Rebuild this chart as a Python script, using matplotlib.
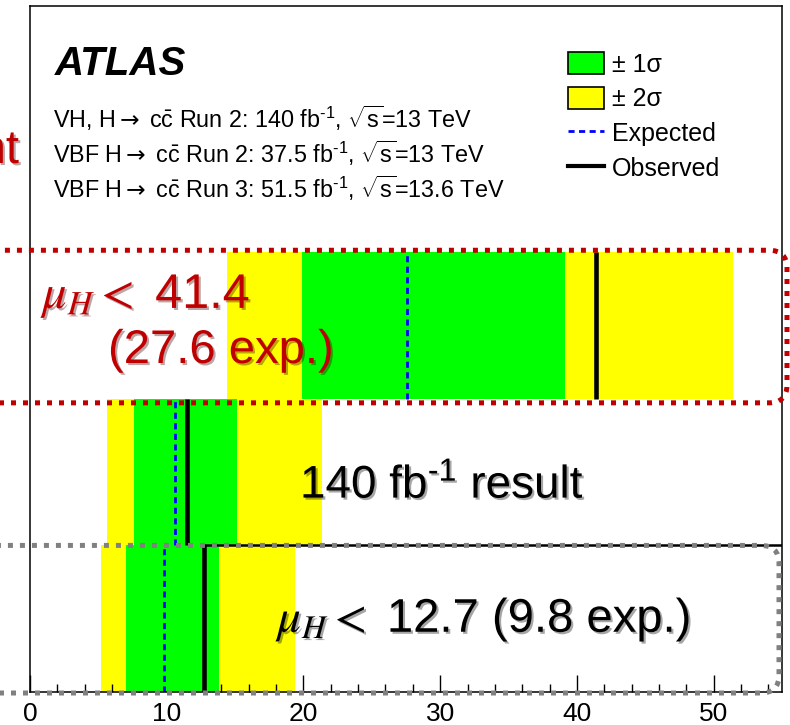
import matplotlib
matplotlib.use('Agg')
import matplotlib.pyplot as plt
import matplotlib.patheffects as pe
from matplotlib.patches import Patch, FancyBboxPatch
from matplotlib.lines import Line2D
from matplotlib.transforms import IdentityTransform
from matplotlib.ticker import MultipleLocator

plt.rcParams['font.family'] = ['Liberation Sans', 'DejaVu Sans']
plt.rcParams['mathtext.fontset'] = 'custom'
plt.rcParams['mathtext.rm'] = 'Liberation Sans'
plt.rcParams['mathtext.it'] = 'Liberation Sans:italic'
plt.rcParams['mathtext.bf'] = 'Liberation Sans:bold'
plt.rcParams['mathtext.sf'] = 'DejaVu Sans'

# limits on mu_H, one row per result (bottom to top)
results = ['VH Run 2', 'VH + VBF, 140 fb-1', 'VH + VBF Run 2 + Run 3']
observed = [12.7, 11.5, 41.4]
expected = [9.8, 10.6, 27.6]
minus_1s = [7.0, 7.6, 19.9]
plus_1s = [13.8, 15.15, 39.1]
minus_2s = [5.2, 5.65, 14.4]
plus_2s = [19.35, 21.35, 51.45]

header = [
    r'VH, H$\mathsf{\rightarrow}$ c$\bar{\mathrm{c}}$ Run 2: 140 fb$^{\text{-1}}$, $\sqrt{\mathrm{s}}$=13 TeV',
    r'VBF H$\mathsf{\rightarrow}$ c$\bar{\mathrm{c}}$ Run 2: 37.5 fb$^{\text{-1}}$, $\sqrt{\mathrm{s}}$=13 TeV',
    r'VBF H$\mathsf{\rightarrow}$ c$\bar{\mathrm{c}}$ Run 3: 51.5 fb$^{\text{-1}}$, $\sqrt{\mathrm{s}}$=13.6 TeV',
]

W, H = 790, 725
GREEN = '#00ff00'
YELLOW = '#ffff00'
RED = '#c00000'
GREY = '#808080'


def fp(x, y):
    # pixel position measured from the top left -> figure fraction
    return x / W, 1 - y / H


fig = plt.figure(figsize=(W / 100, H / 100), dpi=100)
ax = fig.add_axes([30 / W, (H - 692) / H, 752 / W, 686 / H])

rows = list(range(len(results)))
for i in rows:
    ax.barh(i, plus_2s[i] - minus_2s[i], left=minus_2s[i], height=1,
            align='edge', color=YELLOW, lw=0, zorder=1)
    ax.barh(i, plus_1s[i] - minus_1s[i], left=minus_1s[i], height=1,
            align='edge', color=GREEN, lw=0, zorder=2)
    ax.vlines(expected[i], i, i + 1, colors='blue', lw=2,
              linestyles=(0, (2.2, 1.6)), zorder=3)
    ax.vlines(observed[i], i, i + 1, colors='black', lw=3.3, zorder=4)

ax.hlines(1, observed[0], 55, colors='black', lw=1.8, zorder=4)

ax.set_xlim(0, 55)
ax.set_ylim(0, 4.68)
ax.set_yticks([])
ax.xaxis.set_major_locator(MultipleLocator(10))
ax.xaxis.set_minor_locator(MultipleLocator(2))
ax.tick_params(axis='x', which='major', direction='in', length=12, width=1,
               labelsize=19, pad=7)
ax.tick_params(axis='x', which='minor', direction='in', length=6, width=1)
for s in ax.spines.values():
    s.set_linewidth(1.1)
    s.set_zorder(6)

# header
fig.text(*fp(55, 75), 'ATLAS', fontsize=29, weight='bold', style='italic',
         va='baseline')
for k, line in enumerate(header):
    fig.text(*fp(53, 128 + 35 * k), line, fontsize=16.8, va='baseline')

handles = [
    Patch(facecolor=GREEN, edgecolor='black', lw=1.2),
    Patch(facecolor=YELLOW, edgecolor='black', lw=1.2),
    Line2D([], [], color='blue', lw=2, ls=(0, (2.2, 1.6))),
    Line2D([], [], color='black', lw=3),
]
labels = ['± 1σ', '± 2σ', 'Expected', 'Observed']
fig.legend(handles, labels, loc='upper left', bbox_to_anchor=fp(568, 52),
           frameon=False, fontsize=18, handlelength=1.45, handleheight=1.0,
           labelspacing=0.4, handletextpad=0.3, borderpad=0, borderaxespad=0)

# dotted boxes around the first and the last result
fig.canvas.draw()
to_px = ax.transData.transform
x_right = to_px((55, 0))[0]


def dotted_box(y0, y1, x1, color):
    b = FancyBboxPatch((-40, y0), x1 + 40, y1 - y0,
                       boxstyle='round,pad=0,rounding_size=18',
                       transform=IdentityTransform(), fill=False,
                       edgecolor=color, lw=3.6, ls=(0, (1, 1.4)),
                       capstyle='butt', zorder=8)
    fig.add_artist(b)


dotted_box(to_px((0, 2))[1] - 4, to_px((0, 3))[1] + 2, x_right + 5, RED)
dotted_box(to_px((0, 0))[1] - 1, to_px((0, 1))[1], x_right - 3, GREY)

shadow = [pe.SimplePatchShadow(offset=(1.5, -1.5), alpha=0.35), pe.Normal()]
fig.text(*fp(19, 163), 'nt', fontsize=34, color=RED, ha='right',
         va='baseline', path_effects=shadow)
fig.text(*fp(42, 308), r'$\mu_H <$ 41.4', fontsize=35, color=RED,
         va='baseline', math_fontfamily='stix', path_effects=shadow)
fig.text(*fp(108, 363), '(27.6 exp.)', fontsize=34, color=RED,
         va='baseline', path_effects=shadow)
fig.text(*fp(300, 498), r'140 fb$^{\text{-1}}$ result', fontsize=33,
         va='baseline', path_effects=shadow)
fig.text(*fp(277, 632), r'$\mu_H <$ 12.7 (9.8 exp.)', fontsize=34,
         va='baseline', math_fontfamily='stix', path_effects=shadow)

fig.savefig('out.png', dpi=100)
